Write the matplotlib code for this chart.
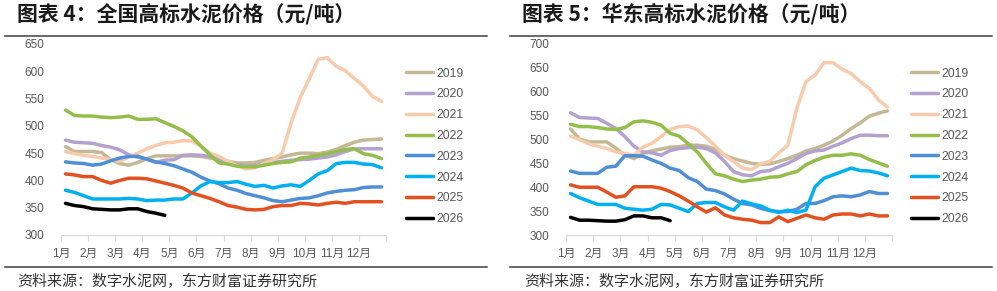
import numpy as np
import matplotlib
matplotlib.use("Agg")
import matplotlib.pyplot as plt
from matplotlib.lines import Line2D

plt.rcParams['font.family'] = ['Liberation Sans', 'Noto Sans CJK SC', 'DejaVu Sans']

years = ['2019', '2020', '2021', '2022', '2023', '2024', '2025', '2026']
colors = ['#c4b895', '#b3a2d0', '#f8cbad', '#93be4a', '#4f8fd6', '#00b0f0', '#e2511f', '#000000']
month_labels = ['1月', '2月', '3月', '4月', '5月', '6月', '7月', '8月', '9月', '10月', '11月', '12月']

# ten-day periods (上/中/下旬), 36 per year

# national price, yuan/t
nat_2019 = [462, 453, 453, 453, 451, 438, 431, 428, 433, 440, 445, 445, 445, 445, 445, 444, 441, 438,
            435, 432, 432, 433, 437, 440, 443, 447, 450, 450, 449, 452, 457, 464, 470, 474, 475, 476]
nat_2020 = [474, 470, 469, 468, 464, 461, 456, 447, 443, 439, 433, 437, 438, 446, 447, 446, 444, 439,
            431, 429, 427, 427, 431, 433, 435, 437, 438, 439, 441, 443, 447, 453, 458, 458, 458, 458]
nat_2021 = [453, 449, 446, 444, 441, 438, 435, 443, 450, 458, 464, 469, 470, 473, 472, 463, 450, 444,
            435, 427, 421, 423, 431, 438, 450, 506, 552, 586, 622, 625, 609, 601, 587, 573, 554, 545]
nat_2022 = [529, 519, 518, 518, 516, 515, 516, 518, 512, 512, 513, 506, 499, 491, 480, 463, 447, 432,
            430, 426, 425, 425, 428, 431, 433, 434, 441, 443, 446, 449, 453, 457, 458, 449, 446, 440]
nat_2023 = [434, 432, 431, 428, 430, 436, 441, 444, 444, 439, 434, 431, 427, 421, 415, 406, 399, 394,
            386, 382, 376, 372, 368, 363, 361, 364, 367, 368, 372, 377, 380, 382, 383, 387, 388, 388]
nat_2024 = [382, 378, 372, 366, 366, 366, 366, 367, 366, 363, 364, 364, 366, 366, 377, 390, 398, 396,
            396, 398, 393, 389, 391, 386, 390, 392, 389, 400, 412, 418, 431, 433, 433, 430, 429, 423]
nat_2025 = [412, 410, 407, 407, 400, 395, 400, 404, 404, 403, 399, 395, 391, 386, 377, 372, 367, 361,
            354, 351, 347, 346, 347, 352, 354, 354, 358, 357, 355, 358, 360, 358, 361, 361, 361, 361]
nat_2026 = [358, 354, 352, 348, 347, 346, 346, 348, 348, 343, 340, 336]

# east china price, yuan/t
east_2019 = [522, 501, 495, 495, 495, 482, 467, 460, 471, 476, 480, 484, 485, 488, 488, 486, 479, 467,
             460, 455, 450, 448, 449, 454, 460, 467, 476, 481, 488, 497, 509, 523, 535, 549, 555, 560]
east_2020 = [556, 546, 545, 544, 534, 523, 506, 486, 474, 472, 467, 477, 481, 483, 484, 481, 472, 454,
             433, 426, 424, 433, 435, 443, 450, 460, 471, 476, 478, 486, 493, 502, 509, 509, 508, 508]
east_2021 = [507, 500, 491, 486, 481, 474, 471, 467, 484, 492, 506, 521, 527, 528, 520, 504, 486, 467,
             454, 440, 437, 449, 454, 472, 488, 566, 621, 635, 661, 661, 647, 638, 621, 607, 583, 568]
east_2022 = [532, 527, 527, 525, 522, 521, 525, 537, 539, 536, 530, 513, 507, 491, 474, 450, 428, 424,
             417, 412, 415, 417, 421, 422, 428, 433, 447, 456, 463, 467, 467, 470, 467, 458, 451, 444]
east_2023 = [434, 429, 429, 429, 442, 444, 466, 466, 465, 457, 450, 440, 435, 420, 412, 396, 393, 386,
             375, 366, 363, 356, 351, 349, 349, 354, 366, 366, 372, 380, 382, 380, 384, 391, 387, 387]
east_2024 = [387, 378, 371, 364, 364, 364, 356, 354, 352, 354, 364, 363, 356, 349, 366, 368, 368, 359,
             352, 371, 365, 361, 352, 347, 352, 347, 352, 401, 419, 426, 433, 440, 435, 434, 430, 424]
east_2025 = [405, 400, 400, 400, 390, 379, 382, 401, 401, 401, 398, 391, 382, 371, 359, 348, 357, 342,
             336, 333, 331, 326, 326, 338, 328, 335, 342, 336, 333, 342, 344, 344, 340, 344, 340, 340]
east_2026 = [337, 331, 331, 330, 329, 329, 332, 340, 340, 336, 336, 330]

national = [nat_2019, nat_2020, nat_2021, nat_2022, nat_2023, nat_2024, nat_2025, nat_2026]
east = [east_2019, east_2020, east_2021, east_2022, east_2023, east_2024, east_2025, east_2026]


def draw_panel(ax, series, ymax, legend_x):
    for vals, year, c in zip(series, years, colors):
        x = 1 + (np.arange(len(vals)) + 0.5) / 3
        ax.plot(x, vals, color=c, lw=2.5, label=year, solid_capstyle='round')
    ax.set_xlim(1, 13)
    ax.set_ylim(300, ymax)
    ax.set_yticks(np.arange(300, ymax + 1, 50))
    ax.set_xticks(np.arange(1, 14))
    ax.set_xticklabels(month_labels + [''])
    for s in ['top', 'right', 'left']:
        ax.spines[s].set_visible(False)
    ax.spines['bottom'].set_color('#d9d9d9')
    ax.tick_params(axis='y', length=0, pad=12, labelsize=8.5, labelcolor='#595959')
    ax.tick_params(axis='x', length=4, color='#d9d9d9', pad=5, labelsize=8.5, labelcolor='#595959')
    ax.legend(loc='upper left', bbox_to_anchor=(legend_x, 0.768), bbox_transform=fig.transFigure,
              frameon=False, fontsize=8.8, handlelength=2.2, handletextpad=0.3,
              labelspacing=0.72, borderpad=0, borderaxespad=0, labelcolor='#595959')


fig = plt.figure(figsize=(9.97, 2.91), dpi=100)
ax1 = fig.add_axes([61 / 997, 1 - 235 / 291, 325 / 997, 191 / 291])
ax2 = fig.add_axes([566 / 997, 1 - 235 / 291, 326 / 997, 191 / 291])
draw_panel(ax1, national, 650, 406 / 997)
draw_panel(ax2, east, 700, 911 / 997)

title_font = dict(fontsize=15, fontweight='bold', color='#1a1a1a', va='center',
                  family=['Noto Sans CJK SC', 'DejaVu Sans'])
fig.text(17 / 997, 1 - 14 / 291, '图表 4：全国高标水泥价格（元/吨）', **title_font)
fig.text(522 / 997, 1 - 14 / 291, '图表 5：华东高标水泥价格（元/吨）', **title_font)

src_font = dict(fontsize=10.8, color='#333333', va='center', family=['Noto Sans CJK SC', 'DejaVu Sans'])
fig.text(17 / 997, 1 - 281 / 291, '资料来源：数字水泥网，东方财富证券研究所', **src_font)
fig.text(524 / 997, 1 - 281 / 291, '资料来源：数字水泥网，东方财富证券研究所', **src_font)

for x0, x1 in [(5, 487), (510, 992)]:
    for y in [36, 267]:
        fig.add_artist(Line2D([x0 / 997, x1 / 997], [1 - y / 291, 1 - y / 291],
                              color='#404040', lw=1.1, transform=fig.transFigure))

fig.savefig('out.png', dpi=100)
